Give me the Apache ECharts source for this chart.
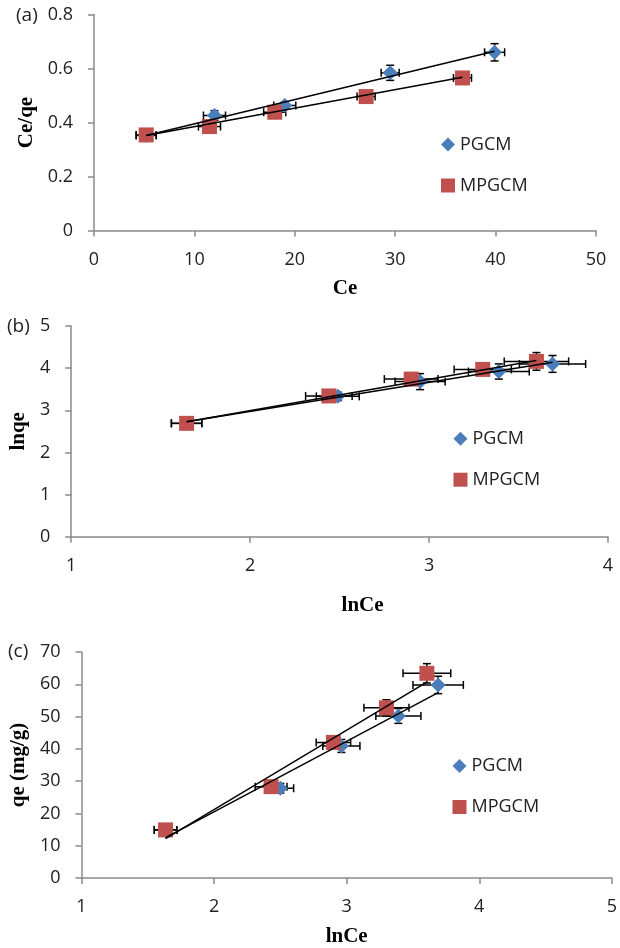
<!DOCTYPE html>
<html>
<head>
<meta charset="utf-8">
<script src="https://cdn.jsdelivr.net/npm/echarts@6/dist/echarts.min.js"></script>
<style>
html,body{margin:0;padding:0;background:#fff;}
#chart{width:620px;height:948px;}
</style>
</head>
<body>
<div id="chart"></div>
<script>
// ---------- Panel (a): Ce/qe vs Ce ----------
const aPG_x  = [5.2, 12.0, 19.0, 29.5, 39.9];
const aPG_y  = [0.352, 0.426, 0.463, 0.584, 0.660];
const aPG_xe = [1.0, 1.1, 1.1, 0.9, 1.0];
const aPG_ye = [0.01, 0.018, 0.012, 0.028, 0.032];
const aMP_x  = [5.2, 11.5, 18.0, 27.1, 36.7];
const aMP_y  = [0.354, 0.385, 0.438, 0.496, 0.565];
const aMP_xe = [1.0, 1.1, 1.1, 0.9, 0.9];
const aMP_ye = [0.01, 0.01, 0.01, 0.01, 0.01];
const aPG_fit_x = [5.2, 39.9];
const aPG_fit_y = [0.352, 0.664];
const aMP_fit_x = [5.2, 36.7];
const aMP_fit_y = [0.352, 0.568];

// ---------- Panel (b): lnqe vs lnCe ----------
const bPG_x  = [1.645, 2.49, 2.95, 3.39, 3.69];
const bPG_y  = [2.69, 3.33, 3.68, 3.92, 4.10];
const bPG_xe = [0.085, 0.12, 0.14, 0.17, 0.185];
const bPG_ye = [0.05, 0.1, 0.19, 0.18, 0.2];
const bMP_x  = [1.645, 2.44, 2.90, 3.30, 3.60];
const bMP_y  = [2.69, 3.34, 3.74, 3.97, 4.16];
const bMP_xe = [0.085, 0.13, 0.15, 0.16, 0.18];
const bMP_ye = [0.05, 0.1, 0.1, 0.1, 0.21];
const bPG_fit_x = [1.645, 3.69];
const bPG_fit_y = [2.73, 4.14];
const bMP_fit_x = [1.645, 3.60];
const bMP_fit_y = [2.73, 4.18];

// ---------- Panel (c): qe vs lnCe ----------
const cPG_x  = [1.634, 2.50, 2.96, 3.39, 3.69];
const cPG_y  = [14.9, 27.8, 40.9, 50.2, 59.8];
const cPG_xe = [0.085, 0.10, 0.14, 0.17, 0.19];
const cPG_ye = [1.0, 1.5, 2.0, 2.3, 2.7];
const cMP_x  = [1.634, 2.43, 2.90, 3.30, 3.605];
const cMP_y  = [14.9, 28.3, 42.0, 52.7, 63.4];
const cMP_xe = [0.085, 0.12, 0.13, 0.17, 0.18];
const cMP_ye = [1.0, 1.5, 1.5, 2.5, 3.0];
const cPG_fit_x = [1.634, 3.69];
const cPG_fit_y = [12.5, 57.4];
const cMP_fit_x = [1.634, 3.605];
const cMP_fit_y = [12.2, 60.7];

const seriesNames = ['PGCM', 'MPGCM'];
const panelLabels = ['(a)', '(b)', '(c)'];
const xTitles = ['Ce', 'lnCe', 'lnCe'];
const yTitles = ['Ce/qe', 'lnqe', 'qe (mg/g)'];

// ---------- helpers ----------
const BLUE = '#4a7ebb', RED = '#c0504d';
const SANS = "'Open Sans', sans-serif";
const SERIF = "'Liberation Serif', 'Times New Roman', serif";
const zip = (xs, ys) => xs.map((x, i) => [x, ys[i]]);
const zip4 = (xs, ys, xe, ye) => xs.map((x, i) => [x, ys[i], xe[i], ye[i]]);

function errRender(params, api) {
  const x = api.value(0), y = api.value(1), xe = api.value(2), ye = api.value(3);
  const l = api.coord([x - xe, y]), r = api.coord([x + xe, y]);
  const t = api.coord([x, y + ye]), b = api.coord([x, y - ye]);
  const cap = 4;
  const st = { stroke: '#000', lineWidth: 1.5 };
  const ln = (x1, y1, x2, y2) => ({ type: 'line', shape: { x1, y1, x2, y2 }, style: st });
  return {
    type: 'group',
    children: [
      ln(l[0], l[1], r[0], r[1]),
      ln(l[0], l[1] - cap, l[0], l[1] + cap),
      ln(r[0], r[1] - cap, r[0], r[1] + cap),
      ln(t[0], t[1], b[0], b[1]),
      ln(t[0] - cap, t[1], t[0] + cap, t[1]),
      ln(b[0] - cap, b[1], b[0] + cap, b[1])
    ]
  };
}

function axisCommon() {
  return {
    type: 'value',
    splitLine: { show: false },
    axisLine: { show: true, onZero: false, lineStyle: { color: '#8a8a8a', width: 1.5 } },
    axisTick: { show: true, inside: false, length: 6, lineStyle: { color: '#8a8a8a', width: 1.5 } },
    axisLabel: { color: '#222', fontFamily: SANS, fontSize: 18 },
    nameLocation: 'middle',
    nameTextStyle: { fontFamily: SERIF, fontWeight: 'bold', fontSize: 21, color: '#000' }
  };
}

const grids = [
  { left: 94, right: 24, top: 14.5, height: 216 },
  { left: 69, right: 12, top: 326, height: 210.7 },
  { left: 77.7, right: 6, top: 652, height: 226 }
];

const xAxes = [
  Object.assign(axisCommon(), { gridIndex: 0, min: 0, max: 50, interval: 10, name: xTitles[0], nameGap: 48 }),
  Object.assign(axisCommon(), { gridIndex: 1, min: 1, max: 4, interval: 1, name: xTitles[1], nameGap: 58 }),
  Object.assign(axisCommon(), { gridIndex: 2, min: 1, max: 5, interval: 1, name: xTitles[2], nameGap: 48 })
];
xAxes.forEach(a => { a.axisLabel.margin = 20; });
xAxes[1].nameTextStyle.padding = [0, 0, 0, 46];

const yAxes = [
  Object.assign(axisCommon(), { gridIndex: 0, min: 0, max: 0.8, interval: 0.2, name: yTitles[0], nameGap: 55 }),
  Object.assign(axisCommon(), { gridIndex: 1, min: 0, max: 5, interval: 1, name: yTitles[1], nameGap: 36 }),
  Object.assign(axisCommon(), { gridIndex: 2, min: 0, max: 70, interval: 10, name: yTitles[2], nameGap: 45 })
];
yAxes.forEach(a => { a.axisLabel.margin = 21; });
yAxes[0].axisLabel.formatter = v => (v === 0 ? '0' : v.toFixed(1));

const panels = [
  { PG: [aPG_x, aPG_y, aPG_xe, aPG_ye], MP: [aMP_x, aMP_y, aMP_xe, aMP_ye],
    fitPG: [aPG_fit_x, aPG_fit_y], fitMP: [aMP_fit_x, aMP_fit_y] },
  { PG: [bPG_x, bPG_y, bPG_xe, bPG_ye], MP: [bMP_x, bMP_y, bMP_xe, bMP_ye],
    fitPG: [bPG_fit_x, bPG_fit_y], fitMP: [bMP_fit_x, bMP_fit_y] },
  { PG: [cPG_x, cPG_y, cPG_xe, cPG_ye], MP: [cMP_x, cMP_y, cMP_xe, cMP_ye],
    fitPG: [cPG_fit_x, cPG_fit_y], fitMP: [cMP_fit_x, cMP_fit_y] }
];

const series = [];
panels.forEach((p, i) => {
  const ax = { xAxisIndex: i, yAxisIndex: i };
  series.push(Object.assign({
    name: 'err-PG-' + i, type: 'custom', renderItem: errRender, z: 1,
    encode: { x: 0, y: 1 }, data: zip4(...p.PG), silent: true
  }, ax));
  series.push(Object.assign({
    name: 'err-MP-' + i, type: 'custom', renderItem: errRender, z: 1,
    encode: { x: 0, y: 1 }, data: zip4(...p.MP), silent: true
  }, ax));
  series.push(Object.assign({
    name: seriesNames[0], type: 'scatter', symbol: 'diamond', symbolSize: 15, z: 2,
    itemStyle: { color: BLUE, opacity: 1 }, data: zip(p.PG[0], p.PG[1])
  }, ax));
  series.push(Object.assign({
    name: seriesNames[1], type: 'scatter', symbol: 'rect', symbolSize: 15, z: 3,
    itemStyle: { color: RED, opacity: 1 }, data: zip(p.MP[0], p.MP[1])
  }, ax));
  series.push(Object.assign({
    name: 'fit-PG-' + i, type: 'line', showSymbol: false, symbol: 'none', z: 4,
    lineStyle: { color: '#000', width: 1.5 }, data: zip(...p.fitPG), silent: true
  }, ax));
  series.push(Object.assign({
    name: 'fit-MP-' + i, type: 'line', showSymbol: false, symbol: 'none', z: 4,
    lineStyle: { color: '#000', width: 1.5 }, data: zip(...p.fitMP), silent: true
  }, ax));
});

const legendPos = [
  { left: 441, top: 135.5 },
  { left: 453.5, top: 429.7 },
  { left: 452.5, top: 757 }
];
const legends = legendPos.map(pos => ({
  left: pos.left, top: pos.top, orient: 'vertical', itemGap: 23,
  itemWidth: 14, itemHeight: 14, padding: 0, selectedMode: false,
  textStyle: { fontFamily: SANS, fontSize: 18, color: '#222' },
  data: [{ name: seriesNames[0], icon: 'diamond' }, { name: seriesNames[1], icon: 'rect' }]
}));

const labelPos = [[16, 16], [7, 327], [8, 652]];
const graphic = panelLabels.map((t, i) => ({
  type: 'text', x: labelPos[i][0], y: labelPos[i][1],
  style: { text: t, fontFamily: SANS, fontSize: 19, fill: '#222',
           textAlign: 'left', textVerticalAlign: 'middle', verticalAlign: 'middle' }
}));

const chart = echarts.init(document.getElementById('chart'), null, { renderer: 'canvas' });
chart.setOption({
  animation: false,
  backgroundColor: '#fff',
  grid: grids,
  xAxis: xAxes,
  yAxis: yAxes,
  legend: legends,
  graphic: graphic,
  series: series
});
</script>
</body>
</html>
